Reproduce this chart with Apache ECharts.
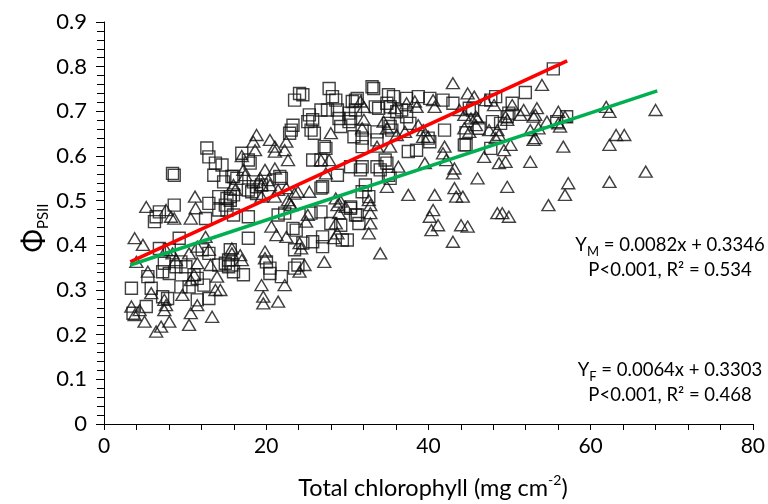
<!DOCTYPE html>
<html>
<head>
<meta charset="utf-8">
<script src="https://cdn.jsdelivr.net/npm/echarts@6/dist/echarts.min.js"></script>
<style>
html,body{margin:0;padding:0;background:#fff;}
#chart{width:768px;height:504px;}
</style>
</head>
<body>
<div id="chart"></div>
<script>
// Squares (M)
const mPoints = [
[8.66,0.557],[8.45,0.561],[12.93,0.598],[13.74,0.584],[14.55,0.580],[13.54,0.557],[14.75,0.542],[15.77,0.554],
[8.66,0.490],[6.83,0.475],[6.43,0.464],[6.22,0.453],[12.52,0.460],[12.93,0.494],[14.15,0.509],[15.16,0.505],
[14.15,0.479],[15.16,0.479],[15.97,0.468],[9.27,0.416],[6.83,0.393],[8.05,0.390],[7.44,0.360],[7.23,0.341],
[8.87,0.352],[8.05,0.337],[12.11,0.390],[12.93,0.382],[14.15,0.356],[15.36,0.352],[15.57,0.390],[5.41,0.330],
[11.10,0.334],[11.50,0.326],[3.38,0.304],[5.82,0.304],[9.48,0.307],[10.49,0.307],[12.32,0.311],[7.23,0.285],
[7.84,0.281],[5.21,0.263],[3.58,0.248],[11.50,0.278],[12.93,0.281],[12.68,0.618],[14.96,0.490],[15.57,0.509],
[9.48,0.363],[10.09,0.352],[14.96,0.360],
[23.50,0.725],[24.11,0.740],[24.52,0.737],[27.76,0.751],[28.17,0.733],[28.58,0.725],[26.75,0.703],[27.56,0.703],
[28.78,0.703],[28.98,0.684],[29.19,0.666],[25.32,0.692],[25.13,0.677],[25.73,0.681],[23.30,0.669],[23.09,0.658],
[22.89,0.651],[25.53,0.658],[25.94,0.651],[31.01,0.725],[31.01,0.703],[27.16,0.621],[27.36,0.617],[25.73,0.591],
[26.75,0.591],[28.78,0.557],[16.99,0.606],[17.80,0.591],[18.02,0.584],[15.97,0.554],[16.38,0.550],[18.41,0.542],
[18.81,0.531],[19.42,0.535],[21.68,0.554],[21.87,0.550],[26.95,0.531],[26.75,0.528],[15.97,0.513],[15.57,0.501],
[17.80,0.524],[18.21,0.520],[18.81,0.516],[30.21,0.677],
[17.80,0.464],[17.80,0.416],[21.47,0.468],[22.28,0.472],[25.53,0.472],[26.75,0.475],[27.97,0.449],[29.19,0.445],
[30.40,0.483],[31.01,0.468],[23.30,0.438],[23.70,0.434],[23.50,0.390],[24.52,0.405],[25.73,0.408],[26.95,0.397],
[26.95,0.419],[29.39,0.412],[15.36,0.367],[15.77,0.356],[15.97,0.341],[17.19,0.334],[20.03,0.363],[20.46,0.349],
[20.46,0.337],[21.87,0.330],[23.50,0.349],[23.91,0.356],
[33.05,0.755],[33.25,0.751],[31.22,0.729],[30.61,0.722],[35.08,0.737],[35.69,0.733],[37.31,0.729],[38.75,0.733],
[40.17,0.729],[41.80,0.725],[43.02,0.718],[33.45,0.710],[33.86,0.707],[34.88,0.718],[35.28,0.710],[30.21,0.696],
[30.40,0.684],[36.10,0.699],[36.70,0.703],[37.31,0.688],[37.72,0.673],[35.08,0.673],[35.28,0.666],[35.49,0.658],
[31.83,0.658],[30.82,0.643],[31.83,0.640],[33.66,0.654],[33.66,0.636],[39.97,0.640],[40.17,0.632],[41.99,0.658],
[44.43,0.625],[31.83,0.621],[37.52,0.610],[38.54,0.613],[34.67,0.591],[34.88,0.584],[30.40,0.576],[31.83,0.576],
[31.62,0.569],[33.66,0.576],[34.06,0.569],[35.08,0.557],[35.28,0.550],[32.23,0.535],[31.83,0.520],[32.65,0.509],
[30.40,0.486],[31.22,0.468],[31.43,0.449],[30.00,0.412],
[55.40,0.795],[51.95,0.742],[48.29,0.733],[47.69,0.725],[50.33,0.718],[45.45,0.703],[45.04,0.707],[49.92,0.696],
[49.72,0.688],[47.89,0.677],[48.90,0.673],[46.26,0.662],[57.04,0.688],[55.82,0.677],[44.64,0.625],[47.69,0.617],
[44.64,0.652]
];
// Triangles (F)
const fPoints = [
[11.22,0.509],[5.21,0.486],[7.65,0.479],[8.26,0.464],[8.66,0.460],[10.70,0.460],[11.30,0.483],[3.78,0.416],
[4.80,0.401],[3.99,0.363],[5.41,0.341],[7.65,0.390],[8.45,0.382],[8.87,0.367],[10.49,0.382],[11.50,0.397],
[12.52,0.419],[12.93,0.390],[11.50,0.360],[13.13,0.356],[10.70,0.322],[11.10,0.334],[13.94,0.330],[14.35,0.300],
[13.74,0.300],[5.82,0.293],[9.67,0.289],[7.44,0.278],[7.65,0.266],[7.44,0.255],[3.38,0.263],[4.39,0.255],
[3.78,0.244],[11.50,0.266],[10.70,0.248],[13.33,0.240],[5.00,0.229],[8.05,0.229],[7.04,0.218],[6.43,0.207],
[10.49,0.222],
[18.81,0.647],[18.41,0.632],[20.46,0.636],[21.07,0.621],[21.07,0.610],[22.48,0.632],[22.28,0.613],[18.63,0.613],
[22.69,0.591],[27.97,0.651],[26.75,0.591],[27.76,0.591],[27.36,0.561],[19.85,0.569],[21.07,0.572],[19.24,0.550],
[19.42,0.535],[20.25,0.546],[20.46,0.535],[15.97,0.535],[16.18,0.524],[17.19,0.569],[17.40,0.557],[21.47,0.524],
[22.48,0.528],[23.50,0.516],[23.91,0.520],[25.32,0.520],[19.42,0.509],[21.07,0.509],[28.58,0.505],[29.19,0.498],
[29.79,0.486],[22.69,0.501],[22.89,0.494],[16.99,0.600],
[15.77,0.393],[15.77,0.382],[16.79,0.378],[16.99,0.367],[19.85,0.386],[19.85,0.371],[21.26,0.423],[22.48,0.419],
[20.64,0.442],[24.11,0.405],[24.31,0.393],[24.72,0.356],[24.11,0.341],[24.92,0.453],[25.13,0.468],[28.78,0.490],
[28.98,0.472],[28.58,0.449],[28.78,0.427],[28.37,0.416],[27.16,0.363],[19.42,0.311],[22.28,0.311],[19.64,0.285],
[19.64,0.270],[21.47,0.274],[23.09,0.490],
[43.02,0.763],[44.84,0.740],[45.65,0.733],[31.62,0.722],[32.04,0.710],[35.89,0.707],[37.31,0.718],[38.33,0.722],
[38.54,0.710],[40.58,0.725],[40.77,0.710],[43.82,0.703],[44.43,0.692],[45.25,0.684],[45.86,0.688],[32.04,0.681],
[31.83,0.662],[34.47,0.677],[34.88,0.662],[36.10,0.647],[37.11,0.654],[38.75,0.669],[39.36,0.658],[39.36,0.643],
[39.97,0.643],[44.43,0.662],[45.04,0.654],[33.66,0.621],[35.28,0.621],[41.99,0.621],[41.80,0.606],[42.20,0.591],
[39.56,0.584],[36.30,0.576],[43.21,0.572],[43.02,0.561],[34.88,0.531],[32.65,0.501],[32.84,0.490],[37.52,0.513],
[40.77,0.513],[43.21,0.528],[43.42,0.509],[44.24,0.509],[40.58,0.479],
[32.84,0.472],[32.84,0.449],[32.65,0.427],[34.06,0.382],[40.17,0.464],[41.19,0.445],[40.37,0.434],[44.03,0.445],
[44.84,0.442],[43.02,0.408],
[54.00,0.759],[47.08,0.725],[48.09,0.714],[50.33,0.714],[51.75,0.703],[51.34,0.692],[53.38,0.707],[53.17,0.692],
[52.96,0.688],[56.02,0.699],[56.84,0.688],[56.23,0.666],[56.02,0.673],[61.92,0.710],[62.32,0.699],[68.01,0.703],
[46.06,0.684],[45.86,0.669],[49.51,0.688],[49.72,0.681],[54.61,0.677],[47.48,0.658],[48.50,0.658],[48.70,0.647],
[48.29,0.640],[52.56,0.658],[53.57,0.662],[53.17,0.640],[52.96,0.636],[63.14,0.647],[64.15,0.647],[62.32,0.625],
[50.12,0.625],[49.31,0.613],[56.63,0.621],[46.87,0.598],[48.70,0.584],[49.51,0.587],[52.56,0.587],[46.06,0.550],
[49.72,0.531],[57.24,0.539],[62.32,0.542],[66.79,0.565],[56.84,0.513],
[54.80,0.490],[48.50,0.472],[49.11,0.472],[49.92,0.464]
];
// Fitted lines (endpoints)
const mFitX = [3.24, 57.11];
const mFitY = [0.363, 0.813];
const fFitX = [3.24, 68.22];
const fFitY = [0.356, 0.746];

const xTicks = [0, 20, 40, 60, 80];
const yTicks = [0, 0.1, 0.2, 0.3, 0.4, 0.5, 0.6, 0.7, 0.8, 0.9];

const eqM = ['{t|Y}{s|M}{t| = 0.0082x + 0.3346}', '{t|P<0.001, R² = 0.534}'];
const eqF = ['{t|Y}{s|F}{t| = 0.0064x + 0.3303}', '{t|P<0.001, R² = 0.468}'];

const FONT = 'Lato, "DejaVu Sans", sans-serif';
const chart = echarts.init(document.getElementById('chart'), null, {renderer: 'canvas'});

const eqRich = {
  t: {fontSize: 18.5, fontFamily: FONT, color: '#000', lineHeight: 25},
  s: {fontSize: 13, fontFamily: FONT, color: '#000', verticalAlign: 'bottom', lineHeight: 25}
};

chart.setOption({
  animation: false,
  backgroundColor: '#fff',
  grid: {left: 104, right: 8, top: 22, bottom: 80, containLabel: false},
  xAxis: {
    type: 'value', min: xTicks[0], max: xTicks[xTicks.length - 1], interval: 20,
    splitLine: {show: false},
    axisLine: {show: true, lineStyle: {color: '#000', width: 1}},
    axisTick: {show: true, length: 6, lineStyle: {color: '#000'}},
    minorTick: {show: true, splitNumber: 5, length: 6, lineStyle: {color: '#000'}},
    axisLabel: {fontSize: 21, fontFamily: FONT, color: '#000', margin: 12}
  },
  yAxis: {
    type: 'value', min: yTicks[0], max: yTicks[yTicks.length - 1], interval: 0.1,
    splitLine: {show: false},
    axisLine: {show: true, lineStyle: {color: '#000', width: 1}},
    axisTick: {show: true, length: 8, lineStyle: {color: '#000'}},
    minorTick: {show: true, splitNumber: 5, length: 7, lineStyle: {color: '#000'}},
    axisLabel: {fontSize: 22, fontFamily: FONT, color: '#000', margin: 17,
      formatter: v => (Math.round(v * 10) / 10).toString()}
  },
  graphic: [
    {type: 'text', x: 433, y: 488, style: {
      text: '{t|Total chlorophyll (mg cm}{u|-2}{t|)}',
      align: 'center', verticalAlign: 'middle',
      rich: {
        t: {fontSize: 23.5, fontFamily: FONT, color: '#000', lineHeight: 30},
        u: {fontSize: 14, fontFamily: FONT, color: '#000', verticalAlign: 'top', lineHeight: 30}
      }}},
    {type: 'text', x: 34, y: 228, rotation: Math.PI / 2, style: {
      text: '{a|Φ}{b|PSII}',
      align: 'center', verticalAlign: 'middle',
      rich: {
        a: {fontSize: 28, fontFamily: FONT, color: '#000', lineHeight: 34},
        b: {fontSize: 15, fontFamily: FONT, color: '#000', verticalAlign: 'bottom', lineHeight: 34}
      }}},
    {type: 'text', x: 670, y: 258, style: {text: eqM.join('\n'), align: 'center', verticalAlign: 'middle', rich: eqRich}},
    {type: 'text', x: 670, y: 383, style: {text: eqF.join('\n'), align: 'center', verticalAlign: 'middle', rich: eqRich}}
  ],
  series: [
    {type: 'scatter', name: 'M', data: mPoints, symbol: 'rect', symbolSize: 12,
      itemStyle: {color: 'rgba(0,0,0,0)', borderColor: '#111', borderWidth: 1.4},
      emphasis: {disabled: true}, z: 2},
    {type: 'scatter', name: 'F', data: fPoints, symbol: 'triangle', symbolSize: [13, 11],
      itemStyle: {color: 'rgba(0,0,0,0)', borderColor: '#111', borderWidth: 1.4},
      emphasis: {disabled: true}, z: 2},
    {type: 'line', name: 'M fit', data: mFitX.map((x, i) => [x, mFitY[i]]), symbol: 'none',
      lineStyle: {color: '#ff0000', width: 3.5}, z: 5},
    {type: 'line', name: 'F fit', data: fFitX.map((x, i) => [x, fFitY[i]]), symbol: 'none',
      lineStyle: {color: '#00b050', width: 3.5}, z: 5}
  ]
});
</script>
</body>
</html>
